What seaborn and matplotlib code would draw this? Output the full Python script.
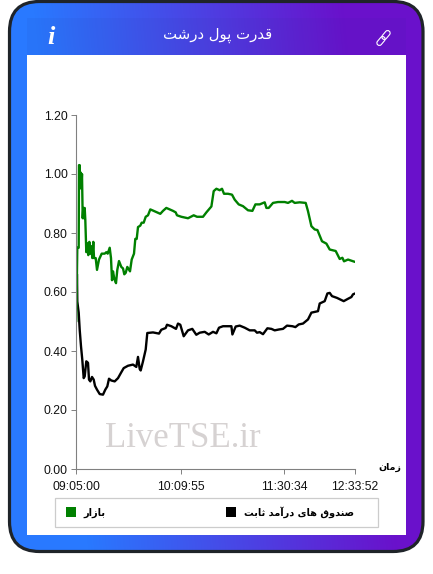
import numpy as np
import pandas as pd
import matplotlib
matplotlib.use("Agg")
import matplotlib.pyplot as plt
from matplotlib.colors import to_rgb
from matplotlib.patches import FancyBboxPatch, Rectangle
from matplotlib.transforms import Affine2D
import seaborn as sns

# data (x is the sample number along the category axis)
market_x = [0.3, 1.3, 2.7, 3, 3.7, 4, 4.7, 5.3, 6, 6.7, 7.3, 8, 8.7, 9.3, 10.3, 11.3, 12.3, 13.3, 14.3, 15.3,
            16.3, 17.3, 18, 19.7, 21, 23, 25.7, 28.7, 30.3, 31.7, 33.7, 35, 36, 37, 38.3, 40, 41.3, 43, 45.3, 47,
            48.3, 49.7, 51.3, 54, 55.7, 58, 59.3, 60.7, 62, 64.3, 65.7, 67.7, 69.7, 72, 74.3, 77.7, 81, 84.3, 87, 90.3,
            93.7, 97, 99.7, 101, 105.3, 112, 117.7, 121, 123.7, 127, 130.4, 135.4, 137.7, 140.4, 143.7, 146, 148, 152, 156, 158.7,
            162.7, 167, 172, 176.4, 179.4, 183.7, 188.7, 190.4, 192.7, 197, 202, 208.7, 212, 216, 218.7, 223.7, 229.7, 232, 235.4, 238.7,
            241.4, 246, 250.4, 253.7, 259.7, 263.7, 266.4, 268, 272, 279]
market_y = [.5, .75, .75, 1.03, 1.03, .955, 1.005, .95, 1.0, .85, .885, .85, .885, .845, .735, .765, .725, .77, .73, .755,
            .715, .77, .715, .715, .675, .71, .73, .73, .735, .73, .75, .715, .64, .67, .645, .63, .675, .705, .685, .68,
            .66, .665, .685, .67, .71, .73, .78, .78, .82, .825, .835, .835, .855, .86, .88, .875, .87, .865, .875, .885,
            .88, .875, .87, .86, .855, .85, .86, .855, .855, .855, .87, .89, .942, .95, .945, .95, .933, .933, .93, .913,
            .897, .891, .877, .875, .897, .897, .904, .885, .885, .902, .905, .905, .902, .909, .902, .904, .902, .874, .823, .812,
            .81, .772, .764, .744, .739, .712, .716, .704, .71, .702]
fund_x = [1, 1.3, 2.7, 3.7, 5, 6.3, 7.7, 8.7, 10.3, 12, 13, 14.3, 16, 17.7, 19, 21, 23.7, 27, 29.3, 31.3,
          33, 35.3, 38.7, 42, 45.3, 47.7, 52, 57, 60.3, 62, 63.7, 64.7, 67, 69.7, 71.3, 77, 83, 85.3, 89.7, 91,
          95.3, 100, 102, 104.3, 107.7, 112, 116.3, 120.3, 123.7, 128.7, 132.7, 137, 140.4, 143, 147, 155.4, 156.4, 159.7, 163.7, 168.7,
          173.7, 178.7, 181, 183.7, 187, 191.4, 195.4, 198.7, 203, 207, 211, 216.4, 219.4, 222.7, 227, 232, 235.4, 242, 243.7, 248.7,
          251.4, 253.7, 256, 261, 267.7, 272, 275.4, 277, 279]
fund_y = [.66, .568, .53, .472, .416, .37, .308, .314, .365, .36, .303, .297, .312, .303, .282, .269, .254, .252, .269, .28,
          .306, .3, .297, .308, .328, .342, .35, .354, .346, .38, .339, .334, .365, .405, .461, .463, .459, .472, .478, .489,
          .484, .475, .493, .489, .45, .47, .475, .455, .462, .465, .456, .465, .46, .479, .484, .484, .456, .483, .486, .479,
          .47, .47, .462, .464, .457, .477, .475, .47, .473, .475, .486, .484, .481, .49, .493, .507, .53, .535, .561, .569,
          .595, .597, .586, .58, .569, .577, .583, .592, .595]
time_pos = [0, 104.5, 208, 279]
time_labels = ["09:05:00", "10:09:55", "11:30:34", "12:33:52"]
value_ticks = [0, 0.2, 0.4, 0.6, 0.8, 1.0, 1.2]
title = "قدرت پول درشت"
x_name = "زمان"
market_name = "بازار"
fund_name = "صندوق های درآمد ثابت"

# matplotlib does no arabic shaping, so join the letters by hand
# letter: isolated, final, initial, medial
forms = {
    "ق": "\ufed5\ufed6\ufed7\ufed8", "ت": "\ufe95\ufe96\ufe97\ufe98", "پ": "\ufb56\ufb57\ufb58\ufb59",
    "ل": "\ufedd\ufede\ufedf\ufee0", "ش": "\ufeb5\ufeb6\ufeb7\ufeb8", "م": "\ufee1\ufee2\ufee3\ufee4",
    "ن": "\ufee5\ufee6\ufee7\ufee8", "ب": "\ufe8f\ufe90\ufe91\ufe92", "ص": "\ufeb9\ufeba\ufebb\ufebc",
    "ه": "\ufee9\ufeea\ufeeb\ufeec", "ی": "\ufbfc\ufbfd\ufbfe\ufbff", "ث": "\ufe99\ufe9a\ufe9b\ufe9c",
    "د": "\ufea9\ufeaa", "ر": "\ufead\ufeae", "و": "\ufeed\ufeee", "ز": "\ufeaf\ufeb0",
    "ا": "\ufe8d\ufe8e", "آ": "\ufe81\ufe82",
}


def shape(text):
    out = []
    for i, ch in enumerate(text):
        if ch not in forms:
            out.append(ch)
            continue
        prev = text[i - 1] if i > 0 else " "
        nxt = text[i + 1] if i < len(text) - 1 else " "
        join_prev = prev in forms and len(forms[prev]) == 4
        join_next = nxt in forms and len(forms[ch]) == 4
        if join_prev and join_next:
            out.append(forms[ch][3])
        elif join_prev:
            out.append(forms[ch][1])
        elif join_next:
            out.append(forms[ch][2])
        else:
            out.append(forms[ch][0])
    return "".join(out)[::-1]


sns.set_style("ticks")
plt.rcParams["font.family"] = ["Liberation Sans", "DejaVu Sans"]

df_market = pd.DataFrame({"sample": market_x, "value": market_y})
df_fund = pd.DataFrame({"sample": fund_x, "value": fund_y})

fig = plt.figure(figsize=(4.33, 5.74), dpi=100, facecolor="white")

# card behind the chart, in pixel coordinates
bg = fig.add_axes([0, 0, 1, 1], zorder=0)
bg.axis("off")

blue = np.array(to_rgb("#2979ff"))
purple = np.array(to_rgb("#6a11cb"))
xx, yy = np.meshgrid(np.arange(433), np.arange(574))
t = np.clip((xx - 90 + (574 - yy) * 0.1) / 310, 0, 1)[..., None]
card = bg.imshow(blue * (1 - t) + purple * t, extent=(0, 433, 574, 0), aspect="auto", zorder=1)
outline = FancyBboxPatch((9.5, 1.5), 413.5, 550, boxstyle="round,pad=0,rounding_size=30",
                         fc="none", ec="#1f2429", lw=2.3, zorder=3)
bg.add_patch(outline)
card.set_clip_path(outline)
bg.set_xlim(0, 433)
bg.set_ylim(574, 0)
bg.add_patch(Rectangle((27, 18), 379, 37, fc="#20308c", alpha=0.06, ec="none", zorder=2))
bg.add_patch(Rectangle((27, 55), 379, 480, fc="white", ec="none", zorder=2))

bg.text(217.5, 35, shape(title), color="white", fontsize=10.7, family="DejaVu Sans",
        ha="center", va="center", zorder=4)
bg.text(51, 37, "i", color="white", fontsize=19, family="Liberation Serif", weight="bold", style="italic",
        ha="center", va="center", zorder=4)
# link icon
for cx, cy in [(386, 35), (381, 41)]:
    rot = Affine2D().rotate_deg_around(cx, cy, -50) + bg.transData
    bg.add_patch(FancyBboxPatch((cx - 5, cy - 2.5), 10, 5, boxstyle="round,pad=0,rounding_size=2.5",
                                fc="none", ec="white", lw=0.8, zorder=4, transform=rot))

# chart
ax = fig.add_axes([76 / 433, 1 - 469 / 574, 279 / 433, 354 / 574], zorder=1)
ax.patch.set_alpha(0)
sns.lineplot(data=df_fund, x="sample", y="value", color="black", lw=1.7, estimator=None, sort=False, ax=ax)
sns.lineplot(data=df_market, x="sample", y="value", color="#008000", lw=1.7, estimator=None, sort=False, ax=ax)
ax.set_xlim(0, 279)
ax.set_ylim(0, 1.2)
ax.set_xticks(time_pos)
ax.set_xticklabels(time_labels)
ax.set_yticks(value_ticks)
ax.set_yticklabels([f"{v:.2f}" for v in value_ticks])
ax.set_xlabel("")
ax.set_ylabel("")
ax.tick_params(length=3.6, width=0.7, color="#808080", labelsize=8.7, labelcolor="#111111", pad=2.5)
ax.tick_params(axis="x", pad=5)
sns.despine(ax=ax)
for side in ["left", "bottom"]:
    ax.spines[side].set_color("#808080")
    ax.spines[side].set_linewidth(0.8)

bg.text(183, 438.5, "LiveTSE.ir", color="#d6d2d2", fontsize=25, family="Liberation Serif",
        ha="center", va="center", zorder=4)
bg.text(390, 467.5, shape(x_name), color="black", fontsize=6.8, family="DejaVu Sans", weight="bold",
        ha="center", va="center", zorder=4)

# legend box
bg.add_patch(Rectangle((54.5, 497.5), 323, 29, fc="white", ec="#cccccc", lw=0.9, zorder=3))
bg.add_patch(Rectangle((66, 507), 10, 10, fc="#008000", ec="none", zorder=4))
bg.add_patch(Rectangle((226, 507), 10, 10, fc="black", ec="none", zorder=4))
bg.text(94, 512.5, shape(market_name), color="black", fontsize=7, family="DejaVu Sans", weight="bold",
        ha="center", va="center", zorder=4)
bg.text(299, 512.5, shape(fund_name), color="black", fontsize=7, family="DejaVu Sans", weight="bold",
        ha="center", va="center", zorder=4)

fig.savefig("out.png", dpi=100)
